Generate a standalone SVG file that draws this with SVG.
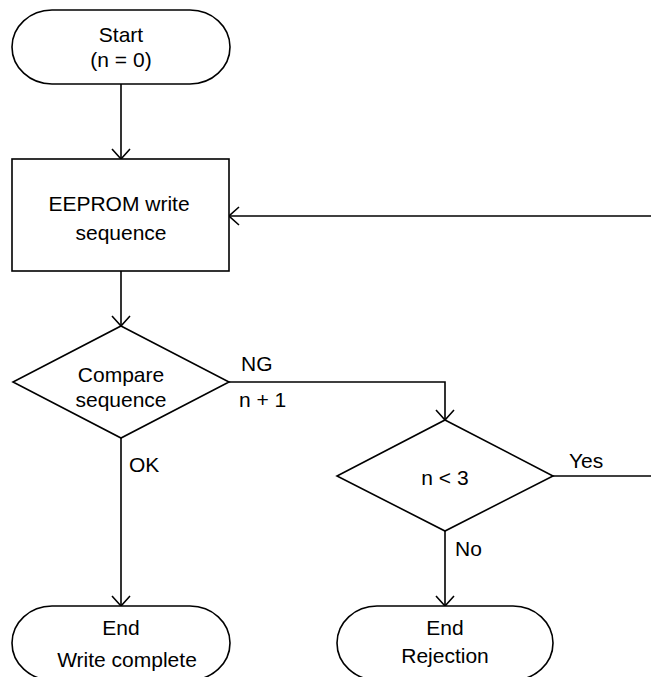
<svg xmlns="http://www.w3.org/2000/svg" width="651" height="677" viewBox="0 0 651 677">
<defs>
<style>
.s{fill:#fff;stroke:#000;stroke-width:1.6}
.c{fill:none;stroke:#000;stroke-width:1.6}
text{font-family:"Liberation Sans",Arial,sans-serif;font-size:21px;fill:#000}
.m{text-anchor:middle}
</style>
<marker id="ah" viewBox="0 0 12 20" refX="11" refY="10" markerWidth="12" markerHeight="20" markerUnits="userSpaceOnUse" orient="auto">
<path d="M1,1 L11,10 L1,19" fill="none" stroke="#000" stroke-width="1.6"/>
</marker>
</defs>
<rect width="651" height="677" fill="#fff"/>
<g id="connectors">
<path class="c" d="M121,84 L121,159" marker-end="url(#ah)"/>
<path class="c" d="M121,271 L121,326" marker-end="url(#ah)"/>
<path class="c" d="M229,382 L445,382 L445,420" marker-end="url(#ah)"/>
<path class="c" d="M121,438 L121,606" marker-end="url(#ah)"/>
<path class="c" d="M553,476 L651,476"/>
<path class="c" d="M651,216 L229,216" marker-end="url(#ah)"/>
<path class="c" d="M445,531 L445,606" marker-end="url(#ah)"/>
<text x="241" y="371">NG</text>
<text x="239" y="407">n + 1</text>
<text x="129" y="472">OK</text>
<text x="569" y="468">Yes</text>
<text x="455" y="556">No</text>
</g>
<g id="start">
<rect class="s" x="12" y="10" width="218" height="74" rx="40" ry="37"/>
<text class="m" x="121" y="42">Start</text>
<text class="m" x="121" y="67">(n = 0)</text>
</g>
<g id="write">
<rect class="s" x="12" y="159" width="217" height="112"/>
<text class="m" x="119" y="211">EEPROM write</text>
<text class="m" x="121" y="240">sequence</text>
</g>
<g id="compare">
<polygon class="s" points="121,326 229,382 121,438 13,382"/>
<text class="m" x="121" y="382">Compare</text>
<text class="m" x="121" y="407">sequence</text>
</g>
<g id="check">
<polygon class="s" points="445,420 553,476 445,531 337,476"/>
<text class="m" x="445" y="485">n &lt; 3</text>
</g>
<g id="end-ok">
<rect class="s" x="12" y="606" width="218" height="74" rx="40" ry="37"/>
<text class="m" x="121" y="635">End</text>
<text class="m" x="127" y="667">Write complete</text>
</g>
<g id="end-ng">
<rect class="s" x="337" y="606" width="216" height="74" rx="40" ry="37"/>
<text class="m" x="445" y="635">End</text>
<text class="m" x="445" y="663">Rejection</text>
</g>
</svg>
